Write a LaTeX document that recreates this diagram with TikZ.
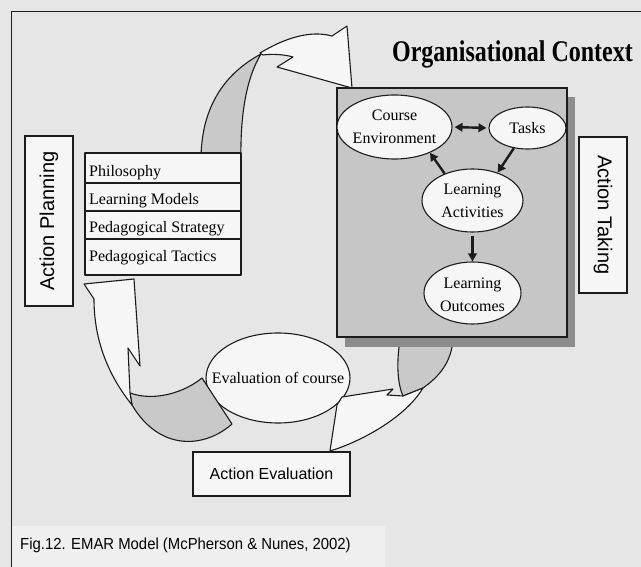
\documentclass[tikz,border=0pt]{standalone}
\usepackage{fontspec}
\setmainfont{Liberation Serif}
\newfontfamily\labelfont{Liberation Sans}
\newfontfamily\capfont[FakeStretch=0.93]{Liberation Sans}
\newfontfamily\headfont[FakeStretch=0.8]{Liberation Serif}
\usetikzlibrary{arrows.meta,shapes.geometric}

\definecolor{paper}{HTML}{E6E6E6}
\definecolor{capbg}{HTML}{EFEFEF}
\definecolor{sheet}{HTML}{F6F6F6}
\definecolor{panel}{HTML}{C6C6C6}
\definecolor{panelshadow}{HTML}{8C8C8C}
\definecolor{ribbon}{HTML}{C9C9C9}
\definecolor{ink}{HTML}{1C1C1C}

\begin{document}
\begin{tikzpicture}[x=1pt,y=-1pt,
  outline/.style={draw=ink,line width=1.1pt,line join=round},
  ribbontop/.style={outline,fill=sheet},
  ribbonunder/.style={outline,fill=ribbon},
  labelbox/.style={draw=ink,line width=1.1pt,fill=sheet,inner sep=0pt,
    font=\labelfont\fontsize{20}{24}\selectfont},
  bubble/.style={ellipse,draw=ink,line width=1.1pt,fill=sheet,inner sep=0pt},
  bubbletext/.style={inner sep=0pt,align=center,font=\fontsize{16}{23}\selectfont},
  rowtext/.style={anchor=base west,inner sep=0pt,font=\fontsize{16}{20}\selectfont},
  flow/.style={draw=ink,line width=2.4pt,-{Triangle[length=8pt,width=8.5pt]}},
  flowboth/.style={draw=ink,line width=2.4pt,{Triangle[length=8pt,width=8.5pt]}-{Triangle[length=8pt,width=8.5pt]}},
]
\useasboundingbox (0,0) rectangle (641,567);

% page and frame
\fill[paper] (0,0) rectangle (641,567);
\fill[capbg] (12.2,526) rectangle (385,567);
\draw[draw=ink,line width=1.2pt] (641,11.5) -- (11.5,11.5) -- (11.5,567);

% evaluation bubble
\node[bubble,minimum width=144pt,minimum height=90pt] (evalb) at (278,378) {};
\node[bubbletext] (evalt) at (evalb) {Evaluation of course};

% curved ribbon: context panel -> evaluation
\draw[ribbonunder] (400,340) .. controls (396,365) and (398,385) .. (403,396)
  -- (423,388) .. controls (440,376) and (451,362) .. (453,340) -- cycle;
\draw[ribbontop] (403,396) -- (387,395) -- (393,389) -- (342,397) -- (337,405)
  -- (330,451) .. controls (360,442) and (405,418) .. (423,388) -- cycle;

% curved ribbon: evaluation -> planning
\draw[ribbonunder] (202,378) .. controls (185,392) and (155,402) .. (130,393)
  -- (132,405) .. controls (160,452) and (205,448) .. (232,424) -- cycle;
\draw[ribbontop] (130,393) -- (128,348) -- (140,366) -- (134,279) -- (84,284)
  -- (94,299) .. controls (94,340) and (108,375) .. (132,405) -- cycle;

% curved ribbon: planning -> context panel
\draw[ribbonunder] (201,160) .. controls (201,110) and (222,75) .. (261,54)
  .. controls (248,75) and (240,110) .. (241,160) -- cycle;
\draw[ribbontop] (260,53) .. controls (285,38) and (310,30) .. (332,36)
  -- (347,26) -- (352,88) -- (277,67) -- (293,57)
  .. controls (283,54) and (270,54) .. (263,55) -- cycle;

% organisational context panel
\fill[panelshadow] (345,97) rectangle (575,347);
\node[draw=ink,line width=1.2pt,fill=panel,minimum width=230pt,minimum height=249pt,inner sep=0pt]
  (ctxpanel) at (452,212.5) {};
\node[anchor=base,inner sep=0pt,font=\headfont\bfseries\fontsize{30}{36}\selectfont]
  (ctxtitle) at (512.5,62) {Organisational Context};

% bubbles inside the panel
\node[bubble,minimum width=115pt,minimum height=64pt] (ce) at (394.5,127) {};
\node[bubbletext] (cet) at (ce) {Course\\Environment};
\node[bubble,minimum width=77pt,minimum height=42pt] (tasks) at (527.5,128) {};
\node[bubbletext] (taskst) at (tasks) {Tasks};
\node[bubble,minimum width=101pt,minimum height=63pt] (la) at (472.5,200.5) {};
\node[bubbletext] (lat) at (la) {Learning\\Activities};
\node[bubble,minimum width=97pt,minimum height=62pt] (lo) at (472.5,293) {};
\node[bubbletext] (lot) at ([yshift=-2pt]lo.center) {Learning\\Outcomes};

% relations between bubbles
\draw[flowboth,shorten <=2pt,shorten >=2pt] (ce.east) -- (tasks.west);
\draw[flow] (tasks.-124) -- (la.48);
\draw[flow] (la.136) -- (ce.-36);
\draw[flow,shorten <=3pt] (la.south) -- (lo.north);

% planning table
\draw[outline,fill=sheet] (85,153) rectangle (241,275);
\draw[outline] (85,183) -- (241,183);
\draw[outline] (85,211) -- (241,211);
\draw[outline] (85,239) -- (241,239);
\node[rowtext] (philo) at (89,177) {Philosophy};
\node[rowtext] (models) at (89,205) {Learning Models};
\node[rowtext] (strategy) at (89,233) {Pedagogical Strategy};
\node[rowtext] (tactics) at (89,262) {Pedagogical Tactics};

% action labels
\node[labelbox,rotate=90,minimum width=170pt,minimum height=48pt] (planning) at (49,221) {Action Planning};
\node[labelbox,rotate=-90,minimum width=156pt,minimum height=48pt] (taking) at (603,215) {Action Taking};
\node[labelbox,minimum width=157pt,minimum height=44pt,font=\labelfont\fontsize{16}{20}\selectfont]
  (evaluation) at (271.5,474) {Action Evaluation};

% caption
\node[anchor=base west,inner sep=0pt,font=\capfont\fontsize{16}{20}\selectfont]
  (caption) at (20,549) {Fig.12. EMAR Model (McPherson \& Nunes, 2002)};
\end{tikzpicture}
\end{document}
